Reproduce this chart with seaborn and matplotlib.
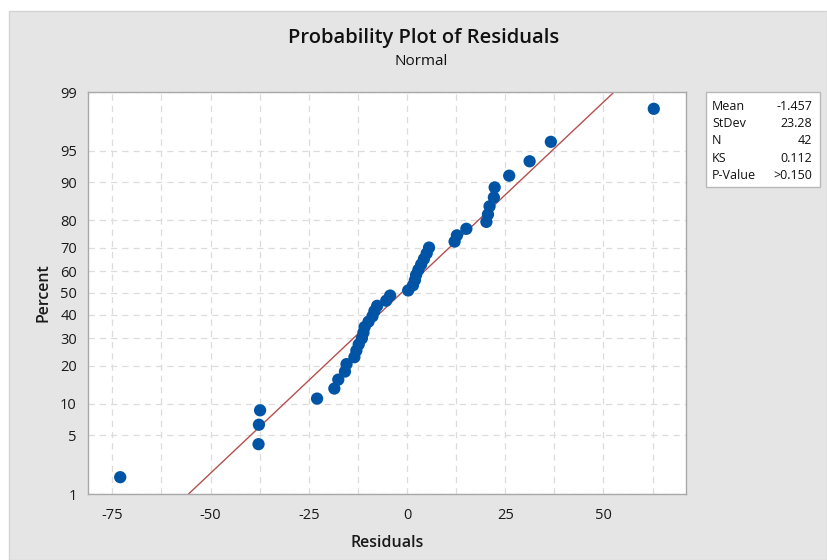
from statistics import NormalDist

import numpy as np
import pandas as pd
import matplotlib.pyplot as plt
from matplotlib.patches import Rectangle
import seaborn as sns

# Residuals, sorted
residuals = [-73.0, -37.8, -37.7, -37.4, -22.9, -18.5, -17.5, -15.8, -15.4, -13.4,
             -12.9, -12.3, -11.5, -11.1, -10.8, -9.8, -8.8, -8.3, -7.6, -5.3,
             -4.3, 0.3, 1.5, 2.0, 2.3, 2.9, 3.6, 4.3, 5.0, 5.6,
             12.1, 12.7, 15.1, 20.2, 20.6, 21.0, 22.1, 22.3, 26.0, 31.2,
             36.6, 62.8]

# Stats box values
stat_names = ["Mean", "StDev", "N", "KS", "P-Value"]
stat_values = ["-1.457", "23.28", "42", "0.112", ">0.150"]
fit_mean = -1.457
fit_sd = 23.28

# Axis ticks
pct_ticks = [1, 5, 10, 20, 30, 40, 50, 60, 70, 80, 90, 95, 99]
x_ticks = [-75, -50, -25, 0, 25, 50]

nd = NormalDist()
z = lambda p: nd.inv_cdf(p)

# median ranks (Benard) as Minitab does
n = len(residuals)
df = pd.DataFrame({"resid": residuals})
df["pct"] = [(i + 1 - 0.3) / (n + 0.4) for i in range(n)]
df["z"] = df["pct"].apply(z)

# fitted normal line
zl = np.array([z(0.005), z(0.995)])
line = pd.DataFrame({"x": fit_mean + fit_sd * zl, "z": zl})

sns.set_style("white")
plt.rcParams["font.family"] = ["Open Sans", "DejaVu Sans"]
plt.rcParams["axes.unicode_minus"] = False

fig = plt.figure(figsize=(8.27, 5.6), dpi=100, facecolor="white")
fig.patches.append(Rectangle((9 / 827, 0), 1 - 9 / 827, 549 / 560, transform=fig.transFigure,
                             facecolor="#e5e5e5", edgecolor="#d4d4d4", lw=1, zorder=-1))
ax = fig.add_axes([88 / 827, 1 - 494 / 560, 598 / 827, 402 / 560])
ax.set_facecolor("white")

sns.lineplot(data=line, x="x", y="z", color="#b5504f", lw=1, sort=False, ax=ax, zorder=2)
sns.scatterplot(data=df, x="resid", y="z", color="#0054a6", s=78, edgecolor="none", ax=ax, zorder=3)

ax.set_xlim(-81.2, 71.0)
ax.set_ylim(z(0.01), z(0.99))
ax.set_xticks(x_ticks)
ax.set_xticks(np.arange(-62.5, 71, 25), minor=True)
ax.set_yticks([z(p / 100) for p in pct_ticks])
ax.set_yticklabels([str(p) for p in pct_ticks])

ax.grid(True, which="both", axis="x", color="#dcdcdc", ls=(0, (5, 4)), lw=0.9)
ax.grid(True, which="major", axis="y", color="#dcdcdc", ls=(0, (5, 4)), lw=0.9)
ax.set_axisbelow(True)
for s in ax.spines.values():
    s.set_color("#a8a8a8")
    s.set_linewidth(1)
ax.tick_params(axis="both", which="major", length=4, color="#a8a8a8", labelsize=10.5, labelcolor="#1a1a1a", pad=4)
ax.tick_params(axis="x", which="minor", length=0)
ax.tick_params(axis="x", pad=6)

ax.set_xlabel("Residuals", fontsize=11.5, fontweight="semibold", color="#1a1a1a", labelpad=9)
ax.set_ylabel("Percent", fontsize=11.5, fontweight="semibold", color="#1a1a1a", labelpad=6)

fig.text(424 / 827, 1 - 38 / 560, "Probability Plot of Residuals", ha="center", va="center",
         fontsize=14.5, fontweight="semibold", color="#111111")
fig.text(421 / 827, 1 - 61 / 560, "Normal", ha="center", va="center", fontsize=11, color="#111111")

# stats box
fig.patches.append(Rectangle((706 / 827, 1 - 187 / 560), 114 / 827, 95 / 560, transform=fig.transFigure,
                             facecolor="white", edgecolor="#b8b8b8", lw=1))
for k, (name, val) in enumerate(zip(stat_names, stat_values)):
    yy = 1 - (106.5 + k * 17.2) / 560
    fig.text(712 / 827, yy, name, ha="left", va="center", fontsize=9, color="#111111")
    fig.text(812 / 827, yy, val, ha="right", va="center", fontsize=9, color="#111111")

fig.savefig("out.png", dpi=100, facecolor=fig.get_facecolor())
